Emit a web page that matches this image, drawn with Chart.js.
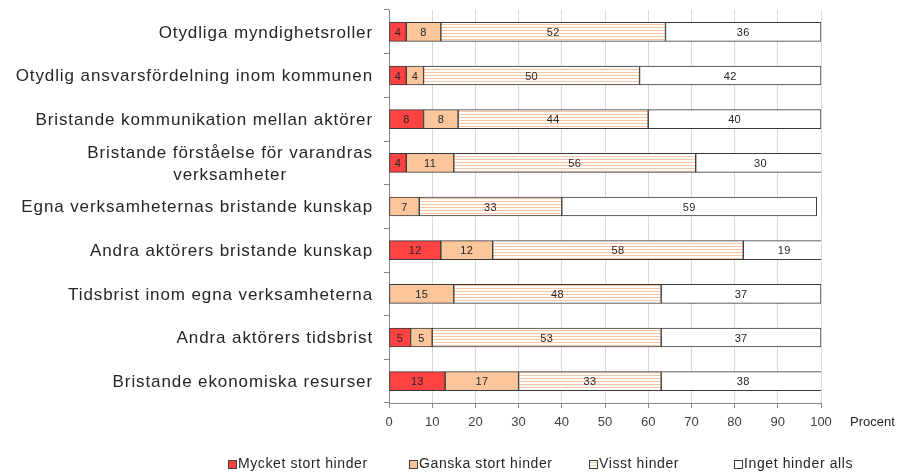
<!DOCTYPE html>
<html>
<head>
<meta charset="utf-8">
<script src="https://cdn.jsdelivr.net/npm/chart.js@4/dist/chart.umd.min.js"></script>
<style>
html,body{margin:0;padding:0;background:#fff;}
#wrap{width:898px;height:473px;position:relative;}
</style>
</head>
<body>
<div id="wrap"><canvas id="c" width="898" height="473"></canvas></div>
<script>
const categories = [
  ["Otydliga myndighetsroller"],
  ["Otydlig ansvarsfördelning inom kommunen"],
  ["Bristande kommunikation mellan aktörer"],
  ["Bristande förståelse för varandras", "verksamheter"],
  ["Egna verksamheternas bristande kunskap"],
  ["Andra aktörers bristande kunskap"],
  ["Tidsbrist inom egna verksamheterna"],
  ["Andra aktörers tidsbrist"],
  ["Bristande ekonomiska resurser"]
];
const seriesNames = ["Mycket stort hinder", "Ganska stort hinder", "Visst hinder", "Inget hinder alls"];
const mycketStort = [4, 4, 8, 4, null, 12, null, 5, 13];
const ganskaStort = [8, 4, 8, 11, 7, 12, 15, 5, 17];
const visst       = [52, 50, 44, 56, 33, 58, 48, 53, 33];
const inget       = [36, 42, 40, 30, 59, 19, 37, 37, 38];
const xTicks = [0, 10, 20, 30, 40, 50, 60, 70, 80, 90, 100];
const axisTitle = "Procent";

const FONT = "'Liberation Sans', Arial, sans-serif";
Chart.defaults.font.family = FONT;

// striped pattern for "Visst hinder"
const pc = document.createElement('canvas');
pc.width = 4; pc.height = 3;
const pctx = pc.getContext('2d');
pctx.fillStyle = '#ffffff'; pctx.fillRect(0,0,4,3);
pctx.fillStyle = '#fbc4a2'; pctx.fillRect(0,0,4,1);
const stripe = document.getElementById('c').getContext('2d').createPattern(pc, 'repeat');

const fills = ['#ff4242', '#fbc69c', stripe, '#ffffff'];

const labelPlugin = {
  id: 'customText',
  afterDatasetsDraw(chart) {
    const ctx = chart.ctx;
    ctx.save();
    ctx.font = "11px " + FONT;
    ctx.letterSpacing = '0.3px';
    ctx.fillStyle = '#262626';
    ctx.textAlign = 'center';
    ctx.textBaseline = 'middle';
    chart.data.datasets.forEach((ds, di) => {
      const meta = chart.getDatasetMeta(di);
      meta.data.forEach((el, i) => {
        const v = ds.data[i];
        if (v === null || v === undefined || v <= 0) return;
        const cx = (el.x + el.base) / 2;
        ctx.fillText(String(v), cx, el.y + 1);
      });
    });
    ctx.restore();
  },
  afterDraw(chart) {
    const ctx = chart.ctx;
    const ys = chart.scales.y;
    const xs = chart.scales.x;
    ctx.save();
    ctx.font = "17px " + FONT;
    ctx.letterSpacing = '0.9px';
    ctx.fillStyle = '#262626';
    ctx.textBaseline = 'middle';
    ctx.textAlign = 'center';
    const right = ys.right - 16;
    categories.forEach((lines, i) => {
      const y = ys.getPixelForValue(i) + 1;
      const widths = lines.map(l => ctx.measureText(l).width);
      const W = Math.max(...widths);
      const cx = right - W / 2;
      const lh = 22;
      const y0 = y - (lines.length - 1) * lh / 2;
      lines.forEach((l, k) => ctx.fillText(l, cx, y0 + k * lh));
    });
    ctx.restore();

    ctx.save();
    ctx.font = "13px " + FONT;
    ctx.fillStyle = '#262626';
    ctx.textBaseline = 'middle';
    ctx.textAlign = 'left';
    ctx.fillText(axisTitle, xs.right + 29, xs.top + 19);
    ctx.restore();

    ctx.save();
    ctx.font = "14px " + FONT;
    ctx.letterSpacing = '0.6px';
    ctx.textBaseline = 'middle';
    ctx.textAlign = 'left';
    const starts = [228, 409, 589, 734];
    const ly = 464;
    seriesNames.forEach((name, k) => {
      const bx = starts[k];
      ctx.fillStyle = fills[k];
      ctx.fillRect(bx, ly - 4, 8, 8);
      ctx.strokeStyle = '#404040';
      ctx.lineWidth = 1;
      ctx.strokeRect(bx + 0.5, ly - 3.5, 8, 8);
      ctx.fillStyle = '#262626';
      ctx.fillText(name, bx + 10, ly);
    });
    ctx.restore();
  }
};

const datasets = [mycketStort, ganskaStort, visst, inget].map((d, k) => ({
  label: seriesNames[k],
  data: d,
  backgroundColor: fills[k],
  borderColor: '#3a3a3a',
  borderWidth: 1,
  borderSkipped: false,
  barThickness: 19
}));

new Chart(document.getElementById('c'), {
  type: 'bar',
  data: { labels: categories.map(l => l.join(' ')), datasets },
  options: {
    indexAxis: 'y',
    responsive: false,
    animation: false,
    layout: { padding: { top: 10, right: 77, left: 0, bottom: 0 } },
    plugins: { legend: { display: false }, tooltip: { enabled: false } },
    scales: {
      x: {
        stacked: true,
        min: 0, max: 100,
        afterBuildTicks(scale) { scale.ticks = xTicks.map(v => ({ value: v })); },
        afterFit(scale) { scale.height = 70; },
        ticks: { font: { size: 13 }, color: '#404040', padding: 7, maxRotation: 0 },
        grid: { color: '#d9d9d9', tickColor: '#868686', tickLength: 5 },
        border: { color: '#868686' }
      },
      y: {
        stacked: true,
        afterFit(scale) { scale.width = 389; },
        ticks: { display: false },
        grid: { drawOnChartArea: false, offset: true, color: '#868686', tickLength: 5 },
        border: { color: '#868686' }
      }
    }
  },
  plugins: [labelPlugin]
});
</script>
</body>
</html>
